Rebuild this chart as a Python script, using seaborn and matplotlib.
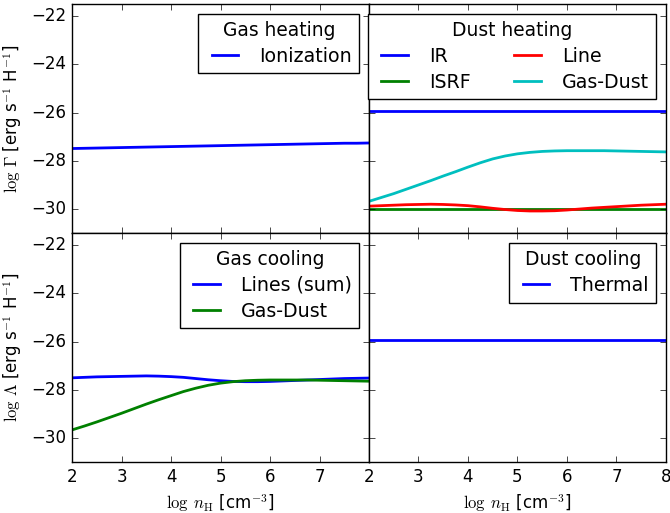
import numpy as np
import pandas as pd
import matplotlib
matplotlib.use("Agg")
import matplotlib.pyplot as plt
import seaborn as sns

plt.style.use("classic")
plt.rcParams["mathtext.fontset"] = "cm"
plt.rcParams["font.family"] = ["DejaVu Sans"]

# ---- data (log n_H grid and rates) ----
log_nH = [2.00, 2.25, 2.50, 2.75, 3.00, 3.25, 3.50, 3.75, 4.00, 4.25, 4.50, 4.75,
          5.00, 5.25, 5.50, 5.75, 6.00, 6.25, 6.50, 6.75, 7.00, 7.25, 7.50, 7.75, 8.00]

gas_heat_ionization = [-27.49, -27.48, -27.47, -27.46, -27.45, -27.44, -27.43, -27.42,
                       -27.41, -27.40, -27.39, -27.38, -27.37, -27.36, -27.35, -27.34,
                       -27.33, -27.32, -27.31, -27.30, -27.29, -27.28, -27.27, -27.27,
                       -27.26]

dust_heat_ir = [-25.95] * 25
dust_heat_isrf = [-29.98] * 25
dust_heat_line = [-29.88, -29.86, -29.84, -29.82, -29.81, -29.80, -29.81, -29.83,
                  -29.86, -29.91, -29.97, -30.02, -30.06, -30.08, -30.08, -30.07,
                  -30.04, -30.00, -29.96, -29.93, -29.90, -29.87, -29.84, -29.82,
                  -29.80]
dust_heat_gasdust = [-29.68, -29.52, -29.36, -29.18, -29.00, -28.82, -28.63, -28.45,
                     -28.26, -28.08, -27.92, -27.80, -27.71, -27.65, -27.61, -27.59,
                     -27.58, -27.58, -27.58, -27.58, -27.59, -27.60, -27.61, -27.62,
                     -27.63]

gas_cool_lines = [-27.50, -27.48, -27.46, -27.45, -27.44, -27.43, -27.42, -27.43,
                  -27.45, -27.48, -27.53, -27.58, -27.62, -27.65, -27.66, -27.66,
                  -27.65, -27.63, -27.61, -27.59, -27.57, -27.55, -27.53, -27.52,
                  -27.51]
gas_cool_gasdust = [-29.66, -29.50, -29.33, -29.15, -28.97, -28.78, -28.59, -28.41,
                    -28.24, -28.07, -27.93, -27.81, -27.72, -27.66, -27.62, -27.60,
                    -27.59, -27.59, -27.59, -27.59, -27.60, -27.61, -27.62, -27.63,
                    -27.64]

dust_cool_thermal = [-25.95] * 25

panels = [
    ("Gas heating", [("Ionization", gas_heat_ionization, "b")], 1),
    ("Dust heating", [("IR", dust_heat_ir, "b"), ("ISRF", dust_heat_isrf, "g"),
                      ("Line", dust_heat_line, "r"), ("Gas-Dust", dust_heat_gasdust, "c")], 2),
    ("Gas cooling", [("Lines (sum)", gas_cool_lines, "b"), ("Gas-Dust", gas_cool_gasdust, "g")], 1),
    ("Dust cooling", [("Thermal", dust_cool_thermal, "b")], 1),
]

fig, axes = plt.subplots(2, 2, sharex=True, sharey=True, figsize=(6.7, 5.13), dpi=100)
fig.patch.set_facecolor("white")
fig.subplots_adjust(left=0.1075, right=0.994, top=0.992, bottom=0.099, wspace=0, hspace=0)

for ax, (title, series, ncol) in zip(axes.flat, panels):
    rows = []
    for name, vals, col in series:
        for xv, yv in zip(log_nH, vals):
            rows.append({"x": xv, "y": yv, "series": name})
    df = pd.DataFrame(rows)
    palette = {name: col for name, vals, col in series}
    sns.lineplot(data=df, x="x", y="y", hue="series", palette=palette,
                 hue_order=[s[0] for s in series], lw=2, ax=ax, legend=True)
    ax.set_xlabel("")
    ax.set_ylabel("")
    leg = ax.legend(title=title, loc="upper right", ncol=ncol, fontsize=13.7,
                    frameon=True, fancybox=False, labelspacing=0.35)
    leg.get_title().set_fontsize(13.4)
    ax.tick_params(labelsize=12)

ax0 = axes[0, 0]
ax0.set_xlim(2, 8)
ax0.set_ylim(-31, -21.5)
ax0.set_xticks([2, 3, 4, 5, 6, 7, 8])
ax0.set_yticks([-30, -28, -26, -24, -22])

axes[0, 0].set_ylabel(r"$\log\,\Gamma$ [erg s$^{-1}$ H$^{-1}$]", fontsize=12)
axes[1, 0].set_ylabel(r"$\log\,\Lambda$ [erg s$^{-1}$ H$^{-1}$]", fontsize=12)
axes[1, 0].set_xlabel(r"$\log\;n_{\rm H}$ [cm$^{-3}$]", fontsize=12)
axes[1, 1].set_xlabel(r"$\log\;n_{\rm H}$ [cm$^{-3}$]", fontsize=12)

fig.canvas.draw()
axes[1, 0].xaxis.get_major_ticks()[-1].label1.set_visible(False)

fig.savefig("out.png", dpi=100, facecolor="white")
